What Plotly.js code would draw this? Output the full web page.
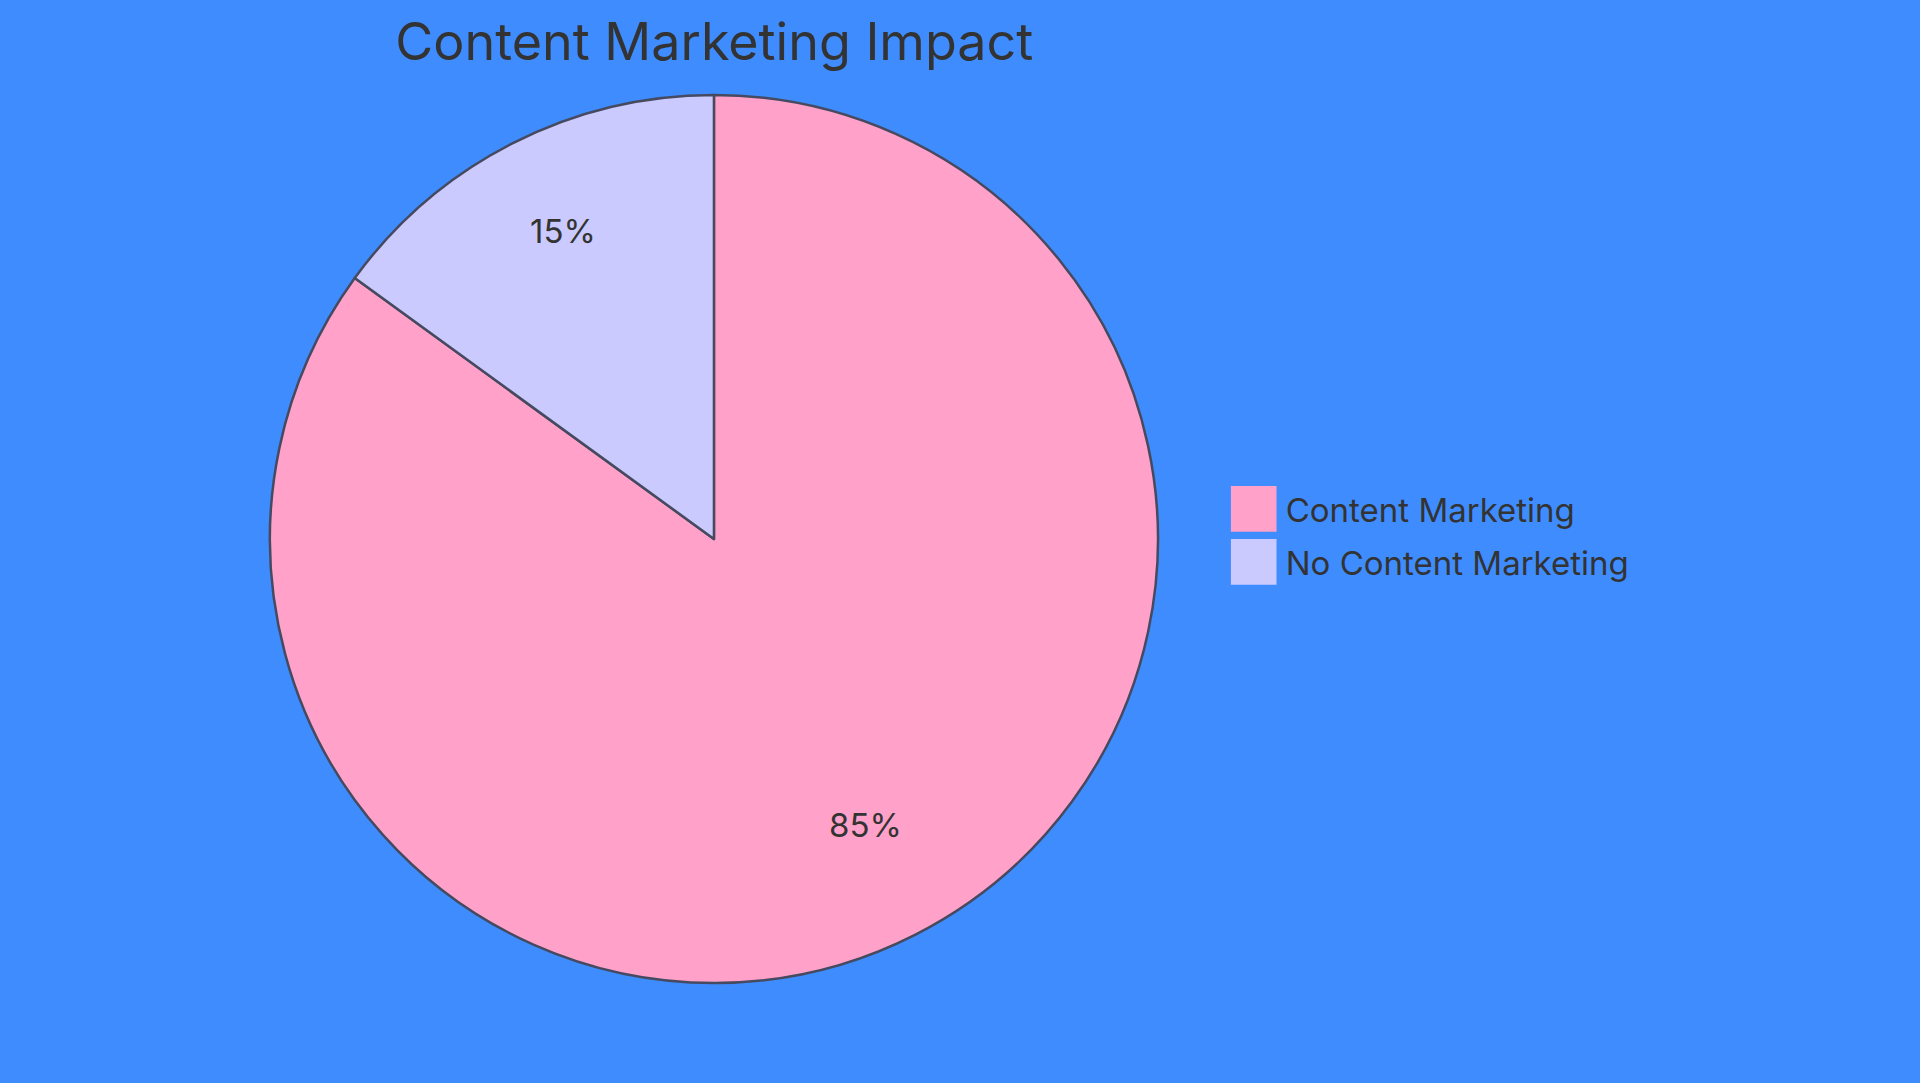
<!DOCTYPE html>
<html>
<head>
<meta charset="utf-8">
<script src="https://cdn.plot.ly/plotly-3.0.1.min.js"></script>
<style>
  html, body { margin: 0; padding: 0; background: #3f8cff; }
  #grafico { width: 1920px; height: 1083px; }
</style>
</head>
<body>
<div id="grafico"></div>
<script>
// datos del grafico
var etiquetas = ['Content Marketing', 'No Content Marketing'];
var valores = [85, 15];
var colores = ['#ffa1c9', '#cacaff'];

var ancho = 1920, alto = 1083;
var margen = { l: 0, r: 0, t: 95, b: 100 };
var dominioX = [0.1406, 0.6031];

// etiquetas de porcentaje sobre la bisectriz de cada porcion (a 3/4 del radio)
var altoPlot = alto - margen.t - margen.b;
var radio = Math.min((dominioX[1] - dominioX[0]) * ancho, altoPlot) / 2;
var cx = (dominioX[0] + dominioX[1]) / 2;
var total = valores.reduce(function (a, b) { return a + b; }, 0);
var acumulado = 0;
var anotaciones = valores.map(function (v) {
  var medio = (acumulado + v / 2) / total * 2 * Math.PI;
  acumulado += v;
  return {
    xref: 'paper', yref: 'paper',
    x: cx + 0.75 * radio * Math.sin(medio) / ancho,
    y: 0.5 + 0.75 * radio * Math.cos(medio) / altoPlot,
    xanchor: 'center', yanchor: 'middle',
    yshift: 11,
    text: Math.round(v / total * 100) + '%',
    showarrow: false,
    font: { size: 33, color: '#333333' }
  };
});

var data = [{
  type: 'pie',
  labels: etiquetas,
  values: valores,
  marker: { colors: colores, line: { color: '#464a60', width: 2.5 } },
  sort: false,
  direction: 'clockwise',
  rotation: 0,
  textinfo: 'none',
  domain: { x: dominioX, y: [0, 1] },
  hoverinfo: 'label+percent'
}];

var layout = {
  width: ancho,
  height: alto,
  paper_bgcolor: '#3f8cff',
  plot_bgcolor: '#3f8cff',
  font: { family: 'Inter, "Open Sans", sans-serif', color: '#333333' },
  margin: margen,
  title: {
    text: 'Content Marketing Impact',
    font: { size: 52, color: '#333333' },
    x: 0.372, xanchor: 'center',
    y: 0.961, yanchor: 'middle'
  },
  annotations: anotaciones,
  showlegend: true,
  legend: {
    x: 0.641, xanchor: 'left',
    y: 0.49, yanchor: 'middle',
    font: { size: 33, color: '#333333' },
    bgcolor: 'rgba(0,0,0,0)'
  }
};

Plotly.newPlot('grafico', data, layout, { displayModeBar: false }).then(function (gd) {
  // cuadros de leyenda grandes como en la imagen
  var caja = gd.querySelector('.legend .scrollbox');
  if (caja) caja.removeAttribute('clip-path');
  var items = gd.querySelectorAll('.legend .traces');
  items.forEach(function (item, i) {
    item.setAttribute('transform', 'translate(0,' + (12 + i * 53) + ')');
    var p = item.querySelector('.legendpoints path');
    if (p) {
      p.setAttribute('transform', 'translate(23,0) scale(3.8)');
      p.style.strokeWidth = '0px';
    }
    var t = item.querySelector('.legendtext');
    if (t) t.setAttribute('x', 55);
    var r = item.querySelector('.legendtoggle');
    if (r) r.setAttribute('width', 400);
  });
});
</script>
</body>
</html>
